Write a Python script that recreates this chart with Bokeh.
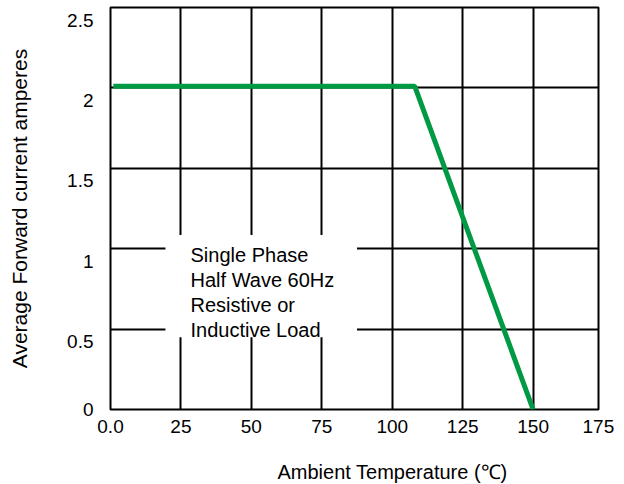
from bokeh.plotting import figure
from bokeh.models import Label, FixedTicker, Range1d, Title
from bokeh.embed import file_html
from bokeh.resources import INLINE

# ---- data ----
temps = [1, 108, 150]            # ambient temperature (deg C)
current = [2.01, 2.01, 0.0]      # average forward current (A)
x_ticks = [0, 25, 50, 75, 100, 125, 150, 175]
x_tick_labels = ["0.0", "25", "50", "75", "100", "125", "150", "175"]
y_ticks = [0, 0.5, 1, 1.5, 2, 2.5]
y_tick_labels = ["0", "0.5", "1", "1.5", "2", "2.5"]
note_lines = ["Single Phase", "Half Wave 60Hz", "Resistive or", "Inductive Load"]
x_title = "Ambient Temperature (\u2103)"
y_title = "Average Forward current amperes"

FONT = "Liberation Sans"
FS = "19px"
FRAME_H = 402
Y_MAX = 2.5
X_END = 173.2   # the drawn frame ends a little before the 175 label

p = figure(frame_width=488, frame_height=FRAME_H,
           x_range=Range1d(0, X_END), y_range=Range1d(0, Y_MAX),
           output_backend="svg", toolbar_location=None,
           min_border_left=110, min_border_right=22,
           min_border_top=7, min_border_bottom=71)

p.outline_line_color = "black"
p.outline_line_width = 2
p.outline_line_alpha = 1.0

p.xgrid.ticker = FixedTicker(ticks=x_ticks)
p.ygrid.ticker = FixedTicker(ticks=y_ticks)
for g in (p.xgrid, p.ygrid):
    g.grid_line_color = "black"
    g.grid_line_width = 2
    g.grid_line_alpha = 1.0

# y tick labels in the reference sit ~12px below their grid lines (except 0)
label_shift = 12.5 * Y_MAX / FRAME_H
y_label_pos = [v if v == 0 else v - label_shift for v in y_ticks]
# the last x label sits at the right edge of the frame
x_label_pos = [min(v, X_END - 0.05) for v in x_ticks]

# axes: labels only
p.xaxis.ticker = FixedTicker(ticks=x_label_pos)
p.xaxis.major_label_overrides = {v: t for v, t in zip(x_label_pos, x_tick_labels)}
p.yaxis.ticker = FixedTicker(ticks=y_label_pos)
p.yaxis.major_label_overrides = {v: t for v, t in zip(y_label_pos, y_tick_labels)}
for ax in (p.xaxis, p.yaxis):
    ax.axis_line_color = None
    ax.major_tick_line_color = None
    ax.minor_tick_line_color = None
    ax.major_tick_out = 0
    ax.major_tick_in = 0
    ax.minor_tick_out = 0
    ax.minor_tick_in = 0
    ax.major_label_text_font = FONT
    ax.major_label_text_font_size = FS
    ax.major_label_text_color = "black"
p.xaxis.major_label_standoff = 10
p.yaxis.major_label_standoff = 17

p.yaxis.axis_label = y_title
p.yaxis.axis_label_standoff = 33
p.yaxis.axis_label_text_font = FONT
p.yaxis.axis_label_text_font_size = "21px"
p.yaxis.axis_label_text_font_style = "normal"
p.yaxis.axis_label_text_color = "black"

p.add_layout(Title(text=x_title, align="left", offset=167, standoff=46,
                   text_font=FONT, text_font_size="20px", text_font_style="normal",
                   text_color="black"), "below")

# white box behind the note
p.quad(left=[19.5], right=[87.5], bottom=[0.45], top=[1.085],
       fill_color="white", line_color=None)

p.line(temps, current, line_color="#009a44", line_width=5)

# note text
for i, t in enumerate(note_lines):
    p.add_layout(Label(x=28.4, y=0.962, y_offset=-25 * i, text=t,
                       text_font=FONT, text_font_size="20px", text_color="black",
                       text_baseline="alphabetic", text_align="left"))

open("out.html", "w").write(file_html(p, INLINE))
